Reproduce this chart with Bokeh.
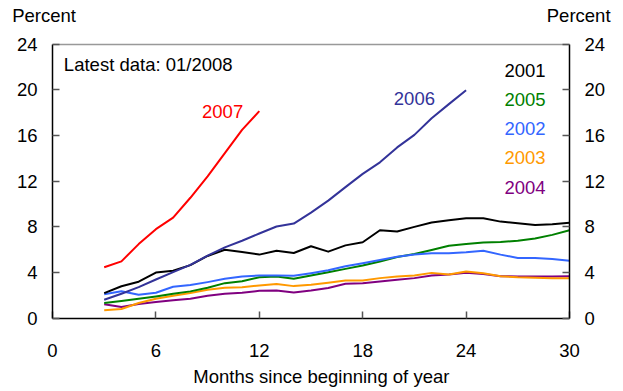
from bokeh.plotting import figure
from bokeh.models import LinearAxis, Label, FixedTicker, Range1d
from bokeh.embed import file_html
from bokeh.resources import INLINE

# ---- data ----
months_full = list(range(3, 31))
months_2006 = list(range(3, 25))
months_2007 = list(range(3, 13))

y2001 = [2.2, 2.8, 3.2, 4.0, 4.15, 4.65, 5.45, 6.0, 5.8, 5.57, 5.91, 5.71, 6.3, 5.83,
         6.38, 6.65, 7.7, 7.6, 8.0, 8.38, 8.57, 8.75, 8.75, 8.46, 8.32, 8.17, 8.23, 8.35]
y2002 = [2.1, 2.36, 2.06, 2.23, 2.75, 2.9, 3.16, 3.45, 3.65, 3.74, 3.74, 3.71, 3.94, 4.2,
         4.55, 4.81, 5.1, 5.38, 5.57, 5.68, 5.68, 5.77, 5.91, 5.57, 5.28, 5.28, 5.19, 5.04]
y2003 = [0.7, 0.81, 1.33, 1.71, 1.97, 2.2, 2.49, 2.67, 2.72, 2.86, 3.0, 2.81, 2.92, 3.1,
         3.3, 3.3, 3.51, 3.65, 3.74, 3.97, 3.83, 4.09, 3.94, 3.68, 3.59, 3.54, 3.51, 3.51]
y2004 = [1.22, 0.99, 1.25, 1.42, 1.57, 1.71, 1.97, 2.14, 2.23, 2.4, 2.43, 2.26, 2.43, 2.64,
         3.01, 3.07, 3.22, 3.36, 3.51, 3.74, 3.83, 3.97, 3.88, 3.68, 3.65, 3.65, 3.65, 3.68]
y2005 = [1.33, 1.51, 1.71, 1.91, 2.14, 2.35, 2.67, 3.07, 3.24, 3.59, 3.65, 3.45, 3.74, 4.03,
         4.32, 4.61, 4.96, 5.36, 5.62, 5.97, 6.35, 6.49, 6.64, 6.67, 6.78, 6.99, 7.3, 7.71]
y2006 = [1.62, 2.14, 2.72, 3.39, 4.03, 4.67, 5.48, 6.2, 6.78, 7.42, 8.03, 8.29, 9.25, 10.3,
         11.48, 12.64, 13.65, 14.96, 16.06, 17.51, 18.75, 19.97]
y2007 = [4.46, 4.98, 6.49, 7.8, 8.81, 10.55, 12.43, 14.46, 16.49, 18.14]

x_ticks = [0, 6, 12, 18, 24, 30]
y_ticks = [0, 4, 8, 12, 16, 20, 24]

# ---- layout geometry (canvas pixels) ----
W, H = 615, 388
FRAME_L, FRAME_R = 52.0, 569.0      # x = 0 .. 30
FRAME_T, FRAME_B = 43.7, 317.7      # y = 24 .. 0
PXX = (FRAME_R - FRAME_L) / (x_ticks[-1] - x_ticks[0])
PXY = (FRAME_B - FRAME_T) / (y_ticks[-1] - y_ticks[0])
x_start = x_ticks[0] - FRAME_L / PXX
x_end = x_ticks[-1] + (W - FRAME_R) / PXX
y_start = y_ticks[0] - (H - FRAME_B) / PXY
y_end = y_ticks[-1] + FRAME_T / PXY

FONT = "Liberation Sans"
FS = "18.5px"

C2001 = "#000000"
C2002 = "#3366FF"
C2003 = "#FF9900"
C2004 = "#800080"
C2005 = "#008000"
C2006 = "#333399"
C2007 = "#FF0000"

p = figure(width=W, height=H, output_backend="svg", toolbar_location=None,
           x_range=Range1d(x_start, x_end), y_range=Range1d(y_start, y_end),
           min_border=0, min_border_left=0, min_border_right=0,
           min_border_top=0, min_border_bottom=0,
           x_axis_location=None, y_axis_location=None)
p.title.visible = False
p.background_fill_color = "white"
p.border_fill_color = "white"
p.outline_line_color = None
p.xgrid.visible = False
p.ygrid.visible = False


def style_axis(ax):
    ax.axis_line_color = "black"
    ax.axis_line_width = 1.5
    ax.major_tick_line_color = "#555555"
    ax.major_tick_line_width = 1.5
    ax.major_tick_in = 7
    ax.major_tick_out = 0
    ax.minor_tick_line_color = None
    ax.major_label_text_font = FONT
    ax.major_label_text_font_size = FS
    ax.major_label_text_color = "black"


xb = LinearAxis(ticker=FixedTicker(ticks=x_ticks),
                fixed_location=y_ticks[0], bounds=(x_ticks[0], x_ticks[-1]))
style_axis(xb)
xb.major_label_standoff = 26
p.add_layout(xb, "below")

xt = LinearAxis(ticker=FixedTicker(ticks=[]), fixed_location=y_ticks[-1],
                bounds=(x_ticks[0], x_ticks[-1]))
style_axis(xt)
xt.axis_line_color = "#999999"
xt.major_label_text_font_size = "0px"
xt.major_label_standoff = 0
xt.major_tick_in = 0
xt.major_tick_line_color = None
p.add_layout(xt, "above")

yl = LinearAxis(ticker=FixedTicker(ticks=y_ticks), fixed_location=x_ticks[0],
                bounds=(y_ticks[0], y_ticks[-1]))
style_axis(yl)
yl.major_label_standoff = 15
p.add_layout(yl, "left")

yr = LinearAxis(ticker=FixedTicker(ticks=y_ticks), fixed_location=x_ticks[-1],
                bounds=(y_ticks[0], y_ticks[-1]))
style_axis(yr)
yr.major_label_standoff = 15
p.add_layout(yr, "right")

lw = 2
p.line(months_full, y2004, line_color=C2004, line_width=lw, line_join="round")
p.line(months_full, y2003, line_color=C2003, line_width=lw, line_join="round")
p.line(months_full, y2005, line_color=C2005, line_width=lw, line_join="round")
p.line(months_full, y2002, line_color=C2002, line_width=lw, line_join="round")
p.line(months_full, y2001, line_color=C2001, line_width=lw, line_join="round")
p.line(months_2006, y2006, line_color=C2006, line_width=lw, line_join="round")
p.line(months_2007, y2007, line_color=C2007, line_width=lw, line_join="round")


def lab(x, y, text, color="black", align="left"):
    p.add_layout(Label(x=x, y=y, text=text, text_color=color, text_font=FONT,
                       text_font_size=FS, text_align=align, text_baseline="alphabetic"))


lab(0.66, 22.26, "Latest data: 01/2008")
lab(9.87, 18.08, "2007", C2007, "center")
lab(21.0, 19.26, "2006", C2006, "center")
lab(28.61, 21.74, "2001", C2001, "right")
lab(28.61, 19.17, "2005", C2005, "right")
lab(28.61, 16.61, "2002", C2002, "right")
lab(28.61, 14.05, "2003", C2003, "right")
lab(28.61, 11.45, "2004", C2004, "right")
lab(-2.34, 26.54, "Percent", "black", "left")
lab(32.38, 26.54, "Percent", "black", "right")
lab(15.6, -5.1, "Months since beginning of year", "black", "center")

open("out.html", "w").write(file_html(p, INLINE))
